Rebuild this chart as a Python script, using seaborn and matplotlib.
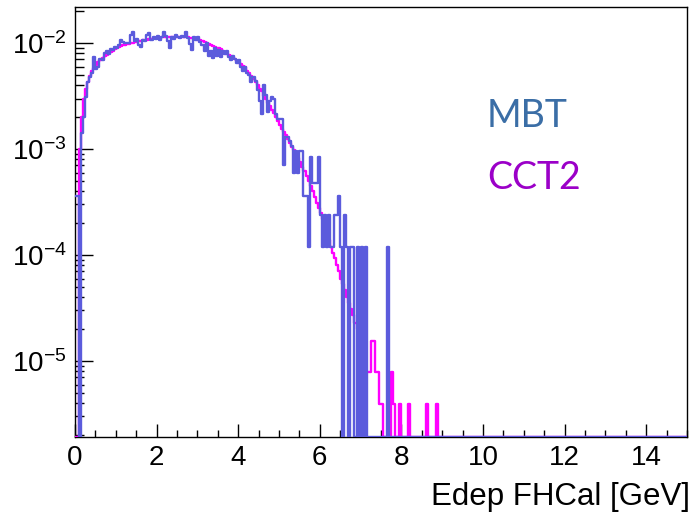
import numpy as np
import pandas as pd
import matplotlib
matplotlib.use("Agg")
import matplotlib.pyplot as plt
import seaborn as sns
from matplotlib.ticker import MultipleLocator, LogLocator, NullFormatter, FixedLocator, FixedFormatter

# ---------------- data ----------------
BIN_WIDTH = 0.05          # GeV
N_BINS = 300              # 0 .. 15 GeV
MBT_UNIT = 1.19e-4        # normalised height of one MBT entry

# MBT: entries per 0.05 GeV bin, starting at 0 GeV
mbt_counts = [
    3, 3, 0, 12, 17, 26, 36, 40, 44, 62,
    48, 50, 60, 58, 68, 70, 66, 74, 72, 77,
    75, 80, 90, 86, 84, 85, 84, 100, 107, 88,
    92, 80, 78, 90, 88, 100, 104, 90, 96, 92,
    98, 90, 96, 107, 98, 88, 76, 95, 92, 100,
    96, 93, 98, 95, 107, 94, 82, 73, 96, 90,
    95, 86, 80, 70, 84, 64, 70, 61, 76, 64,
    72, 62, 70, 66, 70, 62, 58, 63, 60, 55,
    58, 50, 46, 50, 44, 42, 36, 40, 37, 30,
    24, 18, 34, 27, 19, 24, 26, 25, 18, 16,
    16, 16, 6, 11, 11, 10, 9, 5, 8, 5,
    8, 8, 3, 3, 1, 7, 4, 4, 4, 7,
    2, 1, 2, 1, 2, 1, 1, 2, 2, 3,
    1, 0, 2, 1, 0, 1, 1, 0, 1, 0,
    1, 0, 1, 0, 0, 0, 0, 0, 0, 0,
    0, 0, 0, 1,
]

# CCT2: normalised bin contents per 0.05 GeV bin, starting at 0 GeV
cct2_values = [
    0, 0, 1.0e-3, 2.0e-3, 3.0e-3, 3.7e-3, 4.3e-3, 4.9e-3, 5.4e-3, 5.8e-3,
    6.2e-3, 6.6e-3, 6.9e-3, 7.2e-3, 7.5e-3, 7.8e-3, 8.0e-3, 8.3e-3, 8.5e-3, 8.7e-3,
    8.9e-3, 9.1e-3, 9.3e-3, 9.5e-3, 9.6e-3, 9.8e-3, 9.9e-3, 1.00e-2, 1.01e-2, 1.02e-2,
    1.03e-2, 1.04e-2, 1.05e-2, 1.06e-2, 1.07e-2, 1.08e-2, 1.09e-2, 1.10e-2, 1.11e-2, 1.11e-2,
    1.12e-2, 1.12e-2, 1.13e-2, 1.13e-2, 1.14e-2, 1.14e-2, 1.15e-2, 1.15e-2, 1.15e-2, 1.15e-2,
    1.15e-2, 1.15e-2, 1.14e-2, 1.14e-2, 1.13e-2, 1.13e-2, 1.12e-2, 1.11e-2, 1.10e-2, 1.09e-2,
    1.07e-2, 1.06e-2, 1.04e-2, 1.02e-2, 1.00e-2, 9.8e-3, 9.6e-3, 9.4e-3, 9.2e-3, 9.0e-3,
    8.9e-3, 8.7e-3, 8.4e-3, 8.2e-3, 7.9e-3, 7.7e-3, 7.5e-3, 7.3e-3, 7.0e-3, 6.8e-3,
    6.5e-3, 6.3e-3, 6.1e-3, 5.9e-3, 5.5e-3, 5.2e-3, 4.9e-3, 4.6e-3, 4.3e-3, 4.0e-3,
    3.7e-3, 3.5e-3, 3.2e-3, 3.0e-3, 2.75e-3, 2.55e-3, 2.35e-3, 2.2e-3, 2.0e-3, 1.85e-3,
    1.7e-3, 1.55e-3, 1.45e-3, 1.35e-3, 1.25e-3, 1.15e-3, 1.05e-3, 9.7e-4, 8.9e-4, 8.2e-4,
    7.5e-4, 6.8e-4, 6.2e-4, 5.6e-4, 5.0e-4, 4.5e-4, 4.0e-4, 3.5e-4, 3.1e-4, 2.8e-4,
    2.5e-4, 2.2e-4, 1.9e-4, 1.6e-4, 1.4e-4, 1.2e-4, 1.05e-4, 9.3e-5, 8.0e-5, 7.0e-5,
    6.0e-5, 5.3e-5, 4.7e-5, 4.0e-5, 3.5e-5, 3.1e-5, 2.7e-5, 2.3e-5, 2.0e-5, 1.95e-5,
    1.17e-5, 1.17e-5, 7.8e-6, 7.8e-6, 7.8e-6, 1.56e-5, 1.56e-5, 7.8e-6, 7.8e-6, 3.9e-6,
    3.9e-6, 0, 0, 0, 0, 7.8e-6, 3.9e-6, 0, 0, 3.9e-6,
    0, 0, 0, 3.9e-6, 0, 0, 0, 0, 0, 0,
    0, 0, 3.9e-6, 0, 0, 0, 0, 3.9e-6,
]

series_names = ["CCT2", "MBT"]
series_colors = {"CCT2": "#ff00ff", "MBT": "#5b5bdc"}
x_ticks = [0, 2, 4, 6, 8, 10, 12, 14]
y_ticks = [1e-5, 1e-4, 1e-3, 1e-2]
y_tick_labels = [r"$\mathregular{10^{-5}}$", r"$\mathregular{10^{-4}}$",
                 r"$\mathregular{10^{-3}}$", r"$\mathregular{10^{-2}}$"]
x_label = "Edep FHCal [GeV]"
Y_MIN, Y_MAX = 1.92e-6, 2.19e-2
X_MIN, X_MAX = 0.0, 15.0

# ---------------- build table ----------------
def padded(vals):
    out = np.zeros(N_BINS)
    out[:len(vals)] = vals
    return out

edges = np.arange(N_BINS + 1) * BIN_WIDTH
heights = {
    "MBT": padded(np.array(mbt_counts, dtype=float) * MBT_UNIT),
    "CCT2": padded(np.array(cct2_values, dtype=float)),
}
frames = []
for name in series_names:
    h = heights[name]
    y = np.append(h, h[-1])
    y = np.where(y > 0, y, Y_MIN)   # empty bins sit on the axis, as in ROOT
    frames.append(pd.DataFrame({"E": edges, "v": y, "series": name}))
df = pd.concat(frames, ignore_index=True)

# ---------------- style ----------------
sns.set_style("white")
plt.rcParams["font.family"] = ["Liberation Sans", "DejaVu Sans"]
plt.rcParams["mathtext.fontset"] = "custom"
plt.rcParams["mathtext.rm"] = "Liberation Sans"
plt.rcParams["mathtext.it"] = "Liberation Sans:italic"
plt.rcParams["mathtext.bf"] = "Liberation Sans:bold"
plt.rcParams["text.color"] = "black"
plt.rcParams["xtick.color"] = "black"
plt.rcParams["ytick.color"] = "black"

fig = plt.figure(figsize=(6.96, 5.12), dpi=100)
ax = fig.add_axes([75 / 696, 1 - 437 / 512, 612 / 696, 430 / 512])

sns.lineplot(data=df, x="E", y="v", hue="series", hue_order=series_names,
             palette=series_colors, drawstyle="steps-post", estimator=None,
             sort=False, legend=False, linewidth=1.7, ax=ax, zorder=3)

ax.set_yscale("log")
ax.set_xlim(X_MIN, X_MAX)
ax.set_ylim(Y_MIN, Y_MAX)

for s in ax.spines.values():
    s.set_color("black")
    s.set_linewidth(1.0)

ax.xaxis.set_major_locator(FixedLocator(x_ticks))
ax.xaxis.set_minor_locator(MultipleLocator(0.5))
ax.yaxis.set_major_locator(FixedLocator(y_ticks))
ax.yaxis.set_major_formatter(FixedFormatter(y_tick_labels))
ax.yaxis.set_minor_locator(LogLocator(base=10, subs=np.arange(2, 10)))
ax.yaxis.set_minor_formatter(NullFormatter())

ax.tick_params(axis="x", which="major", direction="in", length=9.5, width=1.0,
               labelsize=20, pad=6, bottom=True, top=False,
               color="black", labelcolor="black")
ax.tick_params(axis="x", which="minor", direction="in", length=5, width=1.0,
               bottom=True, top=False, color="black")
ax.tick_params(axis="y", which="major", direction="in", length=13, width=1.0,
               labelsize=20, pad=6, left=True, right=False,
               color="black", labelcolor="black")
ax.tick_params(axis="y", which="minor", direction="in", length=6.5, width=1.0,
               left=True, right=False, color="black")

ax.set_xlabel("")
ax.set_ylabel("")
fig.text(690 / 696, 1 - 505 / 512, x_label, ha="right", va="baseline",
         fontsize=22.5, color="black")

fig.text(487 / 696, 1 - 127 / 512, "MBT", color="#3b6ea6", fontsize=27,
         family=["Lato", "DejaVu Sans"], ha="left", va="baseline")
fig.text(487 / 696, 1 - 189 / 512, "CCT2", color="#9b00c8", fontsize=27,
         family=["Lato", "DejaVu Sans"], ha="left", va="baseline")

fig.savefig("out.png", dpi=100, facecolor="white")
